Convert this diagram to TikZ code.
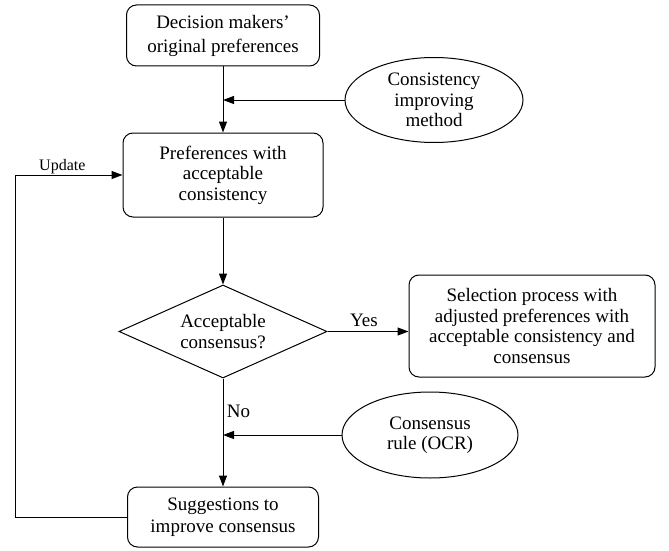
\documentclass[tikz,border=0pt]{standalone}
\usepackage{fontspec}
\setmainfont{Liberation Serif}
\usepackage{tikz}
\usetikzlibrary{arrows.meta, shapes.geometric}

\tikzset{
  box/.style={draw, line width=1pt, rounded corners=10pt, align=center, inner sep=2pt},
  oval/.style={draw, line width=1pt, ellipse, align=center, inner sep=0pt},
  ask/.style={draw, line width=1pt, diamond, shape aspect=2.24, align=center, inner sep=0pt},
  txt/.style={font=\fontsize{19}{20.5}\selectfont},
}

\begin{document}
\begin{tikzpicture}[x=1pt, y=-1pt, >={Triangle[length=11pt, width=8pt]}]
  \useasboundingbox (0,0) rectangle (669,551);

  % Main column
  \node[box, font=\fontsize{19}{24}\selectfont, minimum width=193pt, minimum height=61pt] (orig) at (223,35.5) {Decision makers'\\original preferences};
  \node[box, txt, minimum width=200pt, minimum height=84pt] (accp) at (223,175) {Preferences with\\acceptable\\consistency};
  \node[ask, txt, minimum width=208pt, minimum height=93pt] (cons) at (223,331.5) {Acceptable\\consensus?};
  \node[box, font=\fontsize{19}{22.5}\selectfont, minimum width=191pt, minimum height=60pt] (sugg) at (223,517) {Suggestions to\\improve consensus};

  % Right side
  \node[box, txt, minimum width=246pt, minimum height=102pt] (sel) at (532,326) {Selection process with\\adjusted preferences with\\acceptable consistency and\\consensus};
  \node[oval, txt, minimum width=178pt, minimum height=85pt] (cim) at (434,100) {Consistency\\improving\\method};
  \node[oval, txt, minimum width=176pt, minimum height=86pt] (ocr) at (430,435) {Consensus\\rule (OCR)};

  % Flow
  \draw[->, line width=1pt] (orig) -- (accp);
  \draw[->, line width=1pt] (cim.west) -- (cim.west -| orig.south);
  \draw[->, line width=1pt] (accp) -- (cons);
  \draw[->, line width=1pt] (cons.east) -- node[txt, pos=0.45, above=1pt] {Yes} (cons.east -| sel.west);
  \draw[->, line width=1pt] (cons) -- node[txt, pos=0.3, right] {No} (sugg);
  \draw[->, line width=1pt] (ocr.west) -- (ocr.west -| cons.south);

  % Update loop
  \coordinate (lft) at (15,517);
  \draw[->, line width=1pt] (sugg.west) -- (lft) |- node[pos=0.72, above, inner sep=1pt, font=\fontsize{16}{18}\selectfont] {Update} (accp.west);
\end{tikzpicture}
\end{document}
